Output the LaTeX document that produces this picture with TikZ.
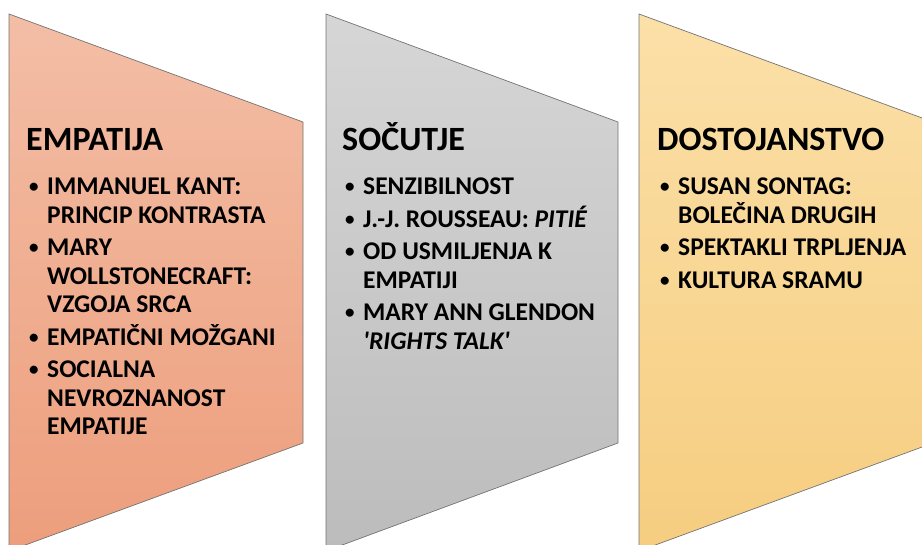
\documentclass[tikz,border=0pt]{standalone}
\usepackage{fontspec}
\setmainfont{Carlito}
\begin{document}
\definecolor{salmonTop}{RGB}{243,190,166}
\definecolor{salmonBot}{RGB}{237,158,124}
\definecolor{greyTop}{RGB}{214,214,214}
\definecolor{greyBot}{RGB}{188,188,188}
\definecolor{sandTop}{RGB}{251,224,168}
\definecolor{sandBot}{RGB}{246,205,128}
\begin{tikzpicture}[x=1pt,y=-1pt,
  panel/.style={draw=black!55, line width=0.7pt, line join=miter},
  heading/.style={anchor=base west, inner sep=0pt, font=\fontsize{34}{36}\bfseries\selectfont},
  itemlist/.style={anchor=north west, inner sep=0pt, align=left, font=\fontsize{25.5}{28.5}\bfseries\selectfont}]
\newcommand{\bul}{\makebox[19pt][l]{\hspace*{1pt}\raisebox{2pt}{\fontsize{19}{19}\selectfont•}}}
\newcommand{\ind}{\hspace*{19pt}}
\useasboundingbox (0,0) rectangle (922,545);
\clip (0,0) rectangle (922,545);
% three funnel panels
\shade[panel, top color=salmonTop, bottom color=salmonBot]
  (9,14) -- (303,122) -- (303,443) -- (9,551) -- cycle;
\shade[panel, top color=greyTop, bottom color=greyBot]
  (326,14) -- (618,122) -- (618,443) -- (326,551) -- cycle;
\shade[panel, top color=sandTop, bottom color=sandBot]
  (639,14) -- (933,122) -- (933,443) -- (639,551) -- cycle;
% headings
\node[heading] (h1) at (26,151) {EMPATIJA};
\node[heading] (h2) at (342,151) {SOČUTJE};
\node[heading] (h3) at (657,151) {DOSTOJANSTVO};
% bullet lists
\node[itemlist] (l1) at (28,178) {%
  \bul IMMANUEL KANT:\\
  \ind PRINCIP KONTRASTA\\[4pt]
  \bul MARY\\
  \ind WOLLSTONECRAFT:\\
  \ind VZGOJA SRCA\\[4pt]
  \bul EMPATIČNI MOŽGANI\\[4pt]
  \bul SOCIALNA\\
  \ind NEVROZNANOST\\
  \ind EMPATIJE};
\node[itemlist] (l2) at (344,178) {%
  \bul SENZIBILNOST\\[4pt]
  \bul J.-J. ROUSSEAU: \textit{PITIÉ}\\[4pt]
  \bul OD USMILJENJA K\\
  \ind EMPATIJI\\[4pt]
  \bul MARY ANN GLENDON\\
  \ind \textit{\textquotesingle RIGHTS TALK\textquotesingle}};
\node[itemlist] (l3) at (659,178) {%
  \bul SUSAN SONTAG:\\
  \ind BOLEČINA DRUGIH\\[4pt]
  \bul SPEKTAKLI TRPLJENJA\\[4pt]
  \bul KULTURA SRAMU};
\end{tikzpicture}
\end{document}
